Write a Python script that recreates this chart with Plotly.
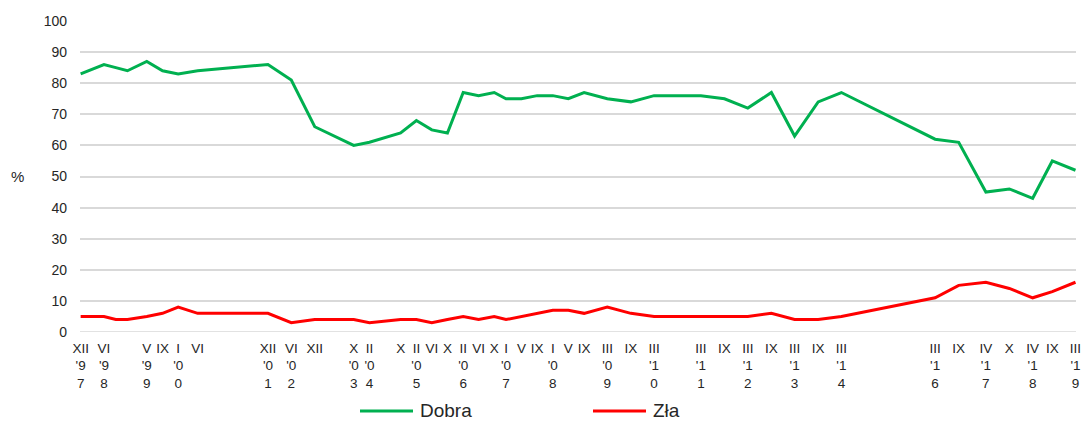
import plotly.graph_objects as go

# Survey dates (month as roman numeral, year)
months = ["XII","VI","IX","XII","V","IX","I","VI","XII","VI","XII","X","II","X","II","VI","X",
          "II","VI","X","I","V","IX","I","V","IX","III","IX","III","III","IX","III","IX",
          "III","IX","III","III","IX","IV","X","IV","IX","III"]
years = [1997,1998,1998,1998,1999,1999,2000,2000,2001,2002,2002,2003,2004,2004,2005,2005,2005,
         2006,2006,2006,2007,2007,2007,2008,2008,2008,2009,2009,2010,2011,2011,2012,2012,
         2013,2013,2014,2016,2016,2017,2017,2018,2018,2019]
# which points carry a year suffix on the axis label; None = no label shown
label_year = [True,True,None,None,True,False,True,False,True,True,False,True,True,False,True,False,False,
              True,False,False,True,False,False,True,False,False,True,False,True,True,False,True,False,
              True,False,True,True,False,True,False,True,False,True]

dobra = [83,86,85,84,87,84,83,84,86,81,66,60,61,64,68,65,64,
         77,76,77,75,75,76,76,75,77,75,74,76,76,75,72,77,
         63,74,77,62,61,45,46,43,55,52]
zla = [5,5,4,4,5,6,8,6,6,3,4,4,3,4,4,3,4,
       5,4,5,4,5,6,7,7,6,8,6,5,5,5,5,6,
       4,4,5,11,15,16,14,11,13,16]

series_names = ["Dobra", "Zła"]
series_colors = ["#00b050", "#ff0000"]

roman = {"I":1,"II":2,"III":3,"IV":4,"V":5,"VI":6,"VII":7,"VIII":8,"IX":9,"X":10,"XI":11,"XII":12}
dates = [f"{y}-{roman[m]:02d}-01" for m, y in zip(months, years)]

tickvals, ticktext = [], []
for d, m, y, ly in zip(dates, months, years, label_year):
    if ly is None:
        continue
    tickvals.append(d)
    if ly:
        yy = f"{y % 100:02d}"
        ticktext.append(f"{m}<br>'{yy[0]}<br>{yy[1]}")
    else:
        ticktext.append(f"{m}<br> <br> ")

fig = go.Figure()
for name, vals, col in zip(series_names, [dobra, zla], series_colors):
    fig.add_trace(go.Scatter(x=dates, y=vals, mode="lines", name=name,
                             line=dict(color=col, width=3), showlegend=False))

fig.update_layout(
    width=1084, height=424,
    margin=dict(l=80, r=8, t=21, b=92),
    plot_bgcolor="white", paper_bgcolor="white",
    font=dict(family="Liberation Sans, Arial, sans-serif", size=13, color="#262626"),
    showlegend=False,
    xaxis=dict(type="date", range=["1997-11-26", "2019-03-05"], tickmode="array",
               tickvals=tickvals, ticktext=ticktext, tickangle=0, automargin=False,
               showgrid=False, showline=False, zeroline=False, ticks="",
               ticklabelstandoff=6, tickfont=dict(size=13.5)),
    yaxis=dict(range=[0, 100], dtick=10, showgrid=True, gridcolor="#d9d9d9", gridwidth=1.5,
               zeroline=False, showline=False, ticks="", tickfont=dict(size=14),
               ticklabelstandoff=12, automargin=False),
)
fig.add_hline(y=0, line=dict(color="#d9d9d9", width=1.5), layer="below")
fig.add_annotation(text="%", xref="paper", yref="paper", x=-0.054, y=0.5,
                   xanchor="right", yanchor="middle", showarrow=False,
                   font=dict(size=15, color="#262626"))

# Legend drawn below the plot (container-pixel positions converted to paper units)
W = 1084 - 80 - 8
H = 424 - 21 - 92
def px_x(p):
    return (p - 80) / W
leg_y = (332 - 411) / H
for name, col, x0 in zip(series_names, series_colors, [360, 593]):
    fig.add_shape(type="line", xref="paper", yref="paper",
                  x0=px_x(x0), x1=px_x(x0 + 53), y0=leg_y, y1=leg_y,
                  line=dict(color=col, width=3))
    fig.add_annotation(text=name, xref="paper", yref="paper", x=px_x(x0 + 58), y=leg_y,
                       xanchor="left", yanchor="middle", showarrow=False,
                       font=dict(size=19, color="#262626"))

fig.write_html("out.html", config={"displayModeBar": False},
               post_script="document.body.style.margin='0';")
